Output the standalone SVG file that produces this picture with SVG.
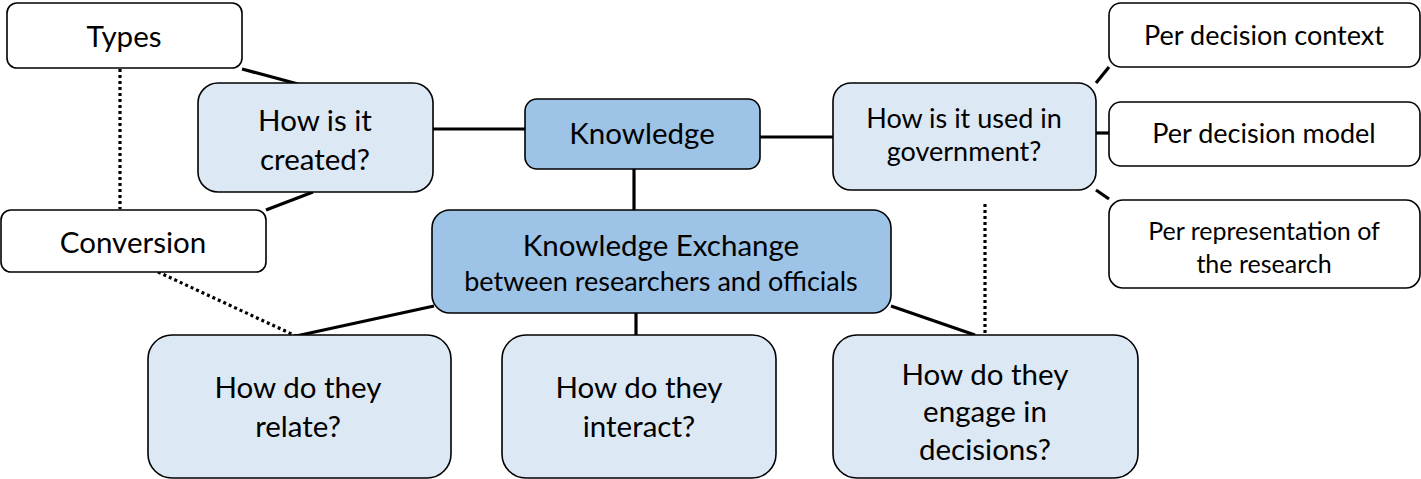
<svg xmlns="http://www.w3.org/2000/svg" width="1421" height="479" viewBox="0 0 1421 479">
<style>
text{font-family:Lato,"Open Sans","Liberation Sans",sans-serif;fill:#000;text-anchor:middle}
.w{fill:#fff;stroke:#000;stroke-width:1.6}
.l{fill:#dde8f5;stroke:#000;stroke-width:1.6}
.d{fill:#9dc3e6;stroke:#000;stroke-width:1.6}
.c{stroke:#000;stroke-width:3.2;fill:none}
.dt{stroke:#000;stroke-width:3.2;fill:none;stroke-dasharray:3 3}
.f29{font-size:29.5px}
.f27{font-size:27px}
.f25{font-size:25px}
</style>
<g id="connectors">
<line class="c" x1="242" y1="69" x2="298" y2="84"/>
<line class="c" x1="313" y1="192" x2="266" y2="210"/>
<line class="dt" x1="120" y1="69" x2="120" y2="209"/>
<line class="c" x1="433" y1="129" x2="525" y2="129"/>
<line class="c" x1="760" y1="137" x2="833" y2="137"/>
<line class="c" x1="634" y1="169" x2="634" y2="210"/>
<line class="c" x1="1096" y1="83" x2="1109" y2="67"/>
<line class="c" x1="1096" y1="133" x2="1109" y2="133"/>
<line class="c" x1="1096" y1="190" x2="1109" y2="199"/>
<line class="dt" x1="985" y1="204" x2="985" y2="334"/>
<line class="dt" x1="158" y1="272" x2="296" y2="336"/>
<line class="c" x1="434" y1="306" x2="296" y2="336"/>
<line class="c" x1="636" y1="313" x2="636" y2="338"/>
<line class="c" x1="891" y1="306" x2="975" y2="335"/>
</g>
<g id="types"><rect class="w" x="7" y="3" width="235" height="65" rx="10"/><text class="f29" x="124" y="47">Types</text></g>
<g id="created"><rect class="l" x="198" y="83" width="235" height="109" rx="20"/><text class="f29" x="315" y="131">How is it</text><text class="f29" x="315" y="170">created?</text></g>
<g id="conversion"><rect class="w" x="1" y="210" width="265" height="62" rx="10"/><text class="f29" x="133" y="253">Conversion</text></g>
<g id="knowledge"><rect class="d" x="525" y="99" width="235" height="70" rx="12"/><text class="f29" x="642" y="144">Knowledge</text></g>
<g id="used"><rect class="l" x="833" y="83" width="263" height="107" rx="18"/><text class="f27" x="964" y="128">How is it used in</text><text class="f27" x="964" y="161">government?</text></g>
<g id="context"><rect class="w" x="1109" y="3" width="311" height="64" rx="12"/><text class="f27" x="1264" y="45">Per decision context</text></g>
<g id="model"><rect class="w" x="1109" y="102" width="311" height="64" rx="12"/><text class="f27" x="1264" y="143">Per decision model</text></g>
<g id="representation"><rect class="w" x="1109" y="200" width="311" height="88" rx="14"/><text class="f25" x="1264" y="240">Per representation of</text><text class="f25" x="1264" y="273">the research</text></g>
<g id="exchange"><rect class="d" x="432" y="210" width="459" height="103" rx="18"/><text class="f29" x="661" y="256">Knowledge Exchange</text><text class="f27" x="661" y="291">between researchers and officials</text></g>
<g id="relate"><rect class="l" x="148" y="335" width="303" height="143" rx="24"/><text class="f29" x="298" y="398">How do they</text><text class="f29" x="298" y="437">relate?</text></g>
<g id="interact"><rect class="l" x="502" y="335" width="274" height="143" rx="24"/><text class="f29" x="639" y="398">How do they</text><text class="f29" x="639" y="437">interact?</text></g>
<g id="engage"><rect class="l" x="833" y="335" width="305" height="143" rx="24"/><text class="f29" x="985" y="385">How do they</text><text class="f29" x="985" y="422">engage in</text><text class="f29" x="985" y="460">decisions?</text></g>
</svg>
